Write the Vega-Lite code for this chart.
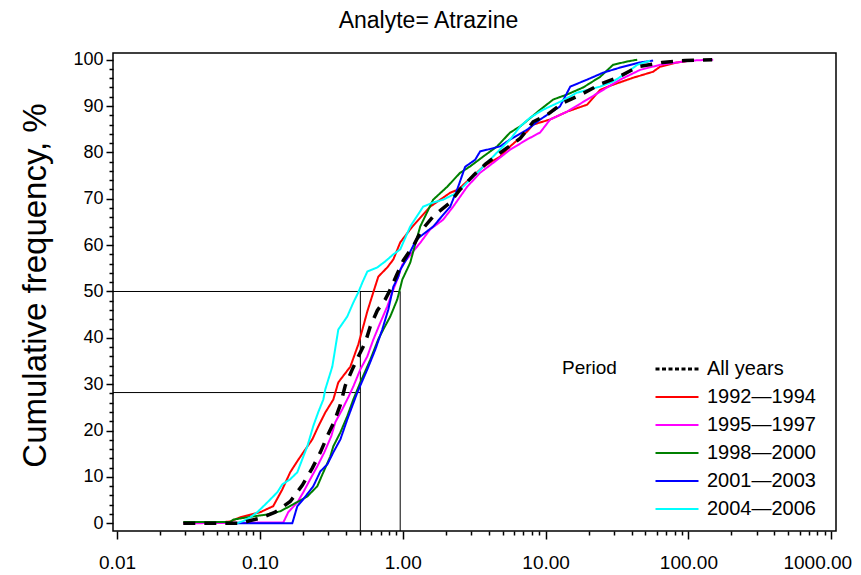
{
  "$schema": "https://vega.github.io/schema/vega-lite/v6.json",
  "width": 723,
  "height": 478,
  "autosize": {"type": "none"},
  "padding": {"left": 113, "top": 53, "right": 25, "bottom": 44},
  "title": {"text": "Analyte= Atrazine", "font": "Liberation Sans", "fontSize": 23, "fontWeight": "normal", "color": "black", "anchor": "middle", "dx": -46, "offset": 18},
  "config": {"view": {"stroke": "black", "strokeWidth": 1.5}, "font": "Liberation Sans"},
  "encoding": {
    "x": {"field": "x", "type": "quantitative",
      "scale": {"type": "log", "domain": [0.00937, 1079], "nice": false},
      "axis": {
        "title": null, "domain": false, "grid": false,
        "values": [0.01,0.02,0.03,0.04,0.05,0.06,0.07,0.08,0.09,0.1,0.2,0.3,0.4,0.5,0.6,0.7,0.8,0.9,1,2,3,4,5,6,7,8,9,10,20,30,40,50,60,70,80,90,100,200,300,400,500,600,700,800,900,1000],
        "labelExpr": "indexof([0.01,0.1,1,10,100,1000], datum.value) >= 0 ? format(datum.value, '.2f') : ''",
        "tickSize": {"condition": {"test": "indexof([0.01,0.1,1,10,100,1000], datum.value) >= 0", "value": 8}, "value": 4},
        "labelOffset": {"condition": {"test": "datum.value == 1000", "value": -14}, "value": 0},
        "tickColor": "black", "tickWidth": 1.5,
        "labelFont": "Liberation Sans", "labelFontSize": 19, "labelColor": "black",
        "labelPadding": 14, "labelFlush": false, "labelOverlap": false
      }
    },
    "y": {"field": "y", "type": "quantitative",
      "scale": {"domain": [-1.66, 101.44], "nice": false, "zero": false},
      "axis": {
        "domain": false, "grid": false,
        "values": [0,2,4,6,8,10,12,14,16,18,20,22,24,26,28,30,32,34,36,38,40,42,44,46,48,50,52,54,56,58,60,62,64,66,68,70,72,74,76,78,80,82,84,86,88,90,92,94,96,98,100],
        "labelExpr": "datum.value % 10 == 0 ? datum.label : ''",
        "tickSize": {"condition": {"test": "datum.value % 10 == 0", "value": 7}, "value": 4},
        "tickColor": "black", "tickWidth": 1.5,
        "labelFont": "Liberation Sans", "labelFontSize": 18, "labelColor": "black", "labelPadding": 3, "labelOverlap": false,
        "title": "Cumulative  frequency,  %", "titleFont": "Liberation Sans", "titleFontSize": 33, "titleFontWeight": "normal", "titleColor": "black",
        "titleX": -78, "titleY": 232, "titleBaseline": "middle", "titleAlign": "center", "titleAngle": -90
      }
    }
  },
  "layer": [
    {
      "data": {"values": [
        {"x": 0.00937, "x2": 0.96, "y": 50, "y2": 50},
        {"x": 0.00937, "x2": 0.505, "y": 28.2, "y2": 28.2},
        {"x": 0.505, "x2": 0.505, "y": -1.66, "y2": 50},
        {"x": 0.96, "x2": 0.96, "y": -1.66, "y2": 50}
      ]},
      "mark": {"type": "rule", "color": "black", "strokeWidth": 1},
      "encoding": {"x2": {"field": "x2"}, "y2": {"field": "y2"}}
    },
    {
      "data": {"values": [
        {"s":"1992—1994","x":0.0291,"y":0},{"s":"1992—1994","x":0.053,"y":0.2},{"s":"1992—1994","x":0.0621,"y":0.4},{"s":"1992—1994","x":0.073,"y":1.3},{"s":"1992—1994","x":0.1007,"y":2.4},{"s":"1992—1994","x":0.124,"y":3.7},{"s":"1992—1994","x":0.1435,"y":7.3},{"s":"1992—1994","x":0.163,"y":11.0},{"s":"1992—1994","x":0.1828,"y":13.4},{"s":"1992—1994","x":0.2014,"y":15.3},{"s":"1992—1994","x":0.2328,"y":18.1},{"s":"1992—1994","x":0.2564,"y":20.9},{"s":"1992—1994","x":0.287,"y":23.9},{"s":"1992—1994","x":0.3266,"y":26.7},{"s":"1992—1994","x":0.354,"y":30.4},{"s":"1992—1994","x":0.43,"y":33.8},{"s":"1992—1994","x":0.4887,"y":38.6},{"s":"1992—1994","x":0.5297,"y":42.5},{"s":"1992—1994","x":0.565,"y":45.7},{"s":"1992—1994","x":0.622,"y":49.8},{"s":"1992—1994","x":0.6745,"y":53.2},{"s":"1992—1994","x":0.78,"y":55.2},{"s":"1992—1994","x":0.859,"y":56.9},{"s":"1992—1994","x":0.961,"y":60.6},{"s":"1992—1994","x":1.168,"y":64.0},{"s":"1992—1994","x":1.556,"y":68.3},{"s":"1992—1994","x":2.15,"y":71.3},{"s":"1992—1994","x":2.445,"y":72.0},{"s":"1992—1994","x":3.656,"y":76.9},{"s":"1992—1994","x":4.81,"y":79.1},{"s":"1992—1994","x":5.65,"y":81.3},{"s":"1992—1994","x":7.43,"y":84.5},{"s":"1992—1994","x":8.18,"y":86.0},{"s":"1992—1994","x":10.76,"y":87.1},{"s":"1992—1994","x":14.16,"y":88.8},{"s":"1992—1994","x":19.55,"y":90.3},{"s":"1992—1994","x":24.1,"y":93.5},{"s":"1992—1994","x":29.7,"y":94.6},{"s":"1992—1994","x":41.0,"y":96.1},{"s":"1992—1994","x":56.6,"y":97.4},{"s":"1992—1994","x":63.4,"y":98.5},{"s":"1992—1994","x":83.4,"y":99.4},{"s":"1992—1994","x":102.8,"y":99.8},

        {"s":"1995—1997","x":0.0291,"y":0},{"s":"1995—1997","x":0.146,"y":0.2},{"s":"1995—1997","x":0.158,"y":2.4},{"s":"1995—1997","x":0.1828,"y":4.5},{"s":"1995—1997","x":0.2014,"y":6.7},{"s":"1995—1997","x":0.225,"y":9.5},{"s":"1995—1997","x":0.2523,"y":12.3},{"s":"1995—1997","x":0.2825,"y":15.3},{"s":"1995—1997","x":0.316,"y":18.8},{"s":"1995—1997","x":0.3373,"y":21.8},{"s":"1995—1997","x":0.3776,"y":24.6},{"s":"1995—1997","x":0.416,"y":27.2},{"s":"1995—1997","x":0.4508,"y":29.5},{"s":"1995—1997","x":0.505,"y":33.2},{"s":"1995—1997","x":0.565,"y":36.0},{"s":"1995—1997","x":0.622,"y":39.6},{"s":"1995—1997","x":0.697,"y":43.3},{"s":"1995—1997","x":0.78,"y":46.8},{"s":"1995—1997","x":0.859,"y":50.4},{"s":"1995—1997","x":0.931,"y":53.2},{"s":"1995—1997","x":0.994,"y":55.8},{"s":"1995—1997","x":1.325,"y":60.5},{"s":"1995—1997","x":1.556,"y":63.4},{"s":"1995—1997","x":1.919,"y":65.5},{"s":"1995—1997","x":2.254,"y":68.3},{"s":"1995—1997","x":2.825,"y":72.6},{"s":"1995—1997","x":3.48,"y":75.6},{"s":"1995—1997","x":4.58,"y":78.4},{"s":"1995—1997","x":5.65,"y":80.6},{"s":"1995—1997","x":7.43,"y":82.8},{"s":"1995—1997","x":9.16,"y":84.3},{"s":"1995—1997","x":10.76,"y":87.1},{"s":"1995—1997","x":14.16,"y":88.8},{"s":"1995—1997","x":19.55,"y":91.4},{"s":"1995—1997","x":24.1,"y":93.1},{"s":"1995—1997","x":33.3,"y":95.7},{"s":"1995—1997","x":45.9,"y":97.8},{"s":"1995—1997","x":63.4,"y":98.9},{"s":"1995—1997","x":83.4,"y":99.4},{"s":"1995—1997","x":102.8,"y":99.8},{"s":"1995—1997","x":149,"y":100},

        {"s":"1998—2000","x":0.0291,"y":0.3},{"s":"1998—2000","x":0.0621,"y":0.3},{"s":"1998—2000","x":0.0652,"y":0.8},{"s":"1998—2000","x":0.0857,"y":1.4},{"s":"1998—2000","x":0.1127,"y":1.9},{"s":"1998—2000","x":0.139,"y":2.6},{"s":"1998—2000","x":0.1714,"y":4.1},{"s":"1998—2000","x":0.2148,"y":5.8},{"s":"1998—2000","x":0.2523,"y":8.0},{"s":"1998—2000","x":0.278,"y":11.0},{"s":"1998—2000","x":0.311,"y":14.4},{"s":"1998—2000","x":0.3266,"y":16.6},{"s":"1998—2000","x":0.366,"y":19.6},{"s":"1998—2000","x":0.409,"y":23.1},{"s":"1998—2000","x":0.4508,"y":26.7},{"s":"1998—2000","x":0.505,"y":30.4},{"s":"1998—2000","x":0.593,"y":35.3},{"s":"1998—2000","x":0.6745,"y":39.7},{"s":"1998—2000","x":0.731,"y":41.8},{"s":"1998—2000","x":0.818,"y":44.6},{"s":"1998—2000","x":0.916,"y":48.3},{"s":"1998—2000","x":0.994,"y":52.6},{"s":"1998—2000","x":1.128,"y":56.2},{"s":"1998—2000","x":1.206,"y":59.5},{"s":"1998—2000","x":1.325,"y":64.0},{"s":"1998—2000","x":1.633,"y":69.8},{"s":"1998—2000","x":2.05,"y":72.6},{"s":"1998—2000","x":2.52,"y":75.6},{"s":"1998—2000","x":2.97,"y":77.0},{"s":"1998—2000","x":3.656,"y":79.1},{"s":"1998—2000","x":4.58,"y":81.3},{"s":"1998—2000","x":5.65,"y":84.3},{"s":"1998—2000","x":6.64,"y":85.6},{"s":"1998—2000","x":9.16,"y":89.2},{"s":"1998—2000","x":11.3,"y":91.4},{"s":"1998—2000","x":14.16,"y":92.5},{"s":"1998—2000","x":18.3,"y":94.0},{"s":"1998—2000","x":24.1,"y":96.3},{"s":"1998—2000","x":29.7,"y":98.9},{"s":"1998—2000","x":37.2,"y":99.6},{"s":"1998—2000","x":43.8,"y":100},

        {"s":"2001—2003","x":0.0695,"y":0},{"s":"2001—2003","x":0.1686,"y":0},{"s":"2001—2003","x":0.1828,"y":3.7},{"s":"2001—2003","x":0.2014,"y":5.2},{"s":"2001—2003","x":0.2366,"y":8.0},{"s":"2001—2003","x":0.265,"y":11.2},{"s":"2001—2003","x":0.2965,"y":12.7},{"s":"2001—2003","x":0.3266,"y":15.3},{"s":"2001—2003","x":0.366,"y":18.1},{"s":"2001—2003","x":0.409,"y":22.4},{"s":"2001—2003","x":0.4808,"y":28.2},{"s":"2001—2003","x":0.565,"y":33.2},{"s":"2001—2003","x":0.643,"y":37.5},{"s":"2001—2003","x":0.719,"y":41.8},{"s":"2001—2003","x":0.7925,"y":46.1},{"s":"2001—2003","x":0.859,"y":51.0},{"s":"2001—2003","x":0.931,"y":53.2},{"s":"2001—2003","x":0.961,"y":54.7},{"s":"2001—2003","x":1.06,"y":56.9},{"s":"2001—2003","x":1.245,"y":61.2},{"s":"2001—2003","x":1.633,"y":64.0},{"s":"2001—2003","x":2.15,"y":68.3},{"s":"2001—2003","x":2.445,"y":72.6},{"s":"2001—2003","x":2.735,"y":76.9},{"s":"2001—2003","x":3.21,"y":78.4},{"s":"2001—2003","x":3.48,"y":80.2},{"s":"2001—2003","x":4.81,"y":81.3},{"s":"2001—2003","x":5.65,"y":82.8},{"s":"2001—2003","x":7.43,"y":84.9},{"s":"2001—2003","x":9.16,"y":87.1},{"s":"2001—2003","x":12.6,"y":89.9},{"s":"2001—2003","x":14.9,"y":94.2},{"s":"2001—2003","x":19.55,"y":95.7},{"s":"2001—2003","x":25.3,"y":97.2},{"s":"2001—2003","x":33.3,"y":98.3},{"s":"2001—2003","x":45.9,"y":99.4},{"s":"2001—2003","x":56.6,"y":99.8},

        {"s":"2004—2006","x":0.0688,"y":0},{"s":"2004—2006","x":0.0766,"y":0.5},{"s":"2004—2006","x":0.0857,"y":1.3},{"s":"2004—2006","x":0.096,"y":2.4},{"s":"2004—2006","x":0.1127,"y":4.5},{"s":"2004—2006","x":0.1325,"y":6.7},{"s":"2004—2006","x":0.1435,"y":8.4},{"s":"2004—2006","x":0.163,"y":9.5},{"s":"2004—2006","x":0.1828,"y":11.0},{"s":"2004—2006","x":0.2014,"y":14.4},{"s":"2004—2006","x":0.2148,"y":16.6},{"s":"2004—2006","x":0.2366,"y":21.0},{"s":"2004—2006","x":0.2564,"y":24.0},{"s":"2004—2006","x":0.278,"y":26.7},{"s":"2004—2006","x":0.287,"y":28.9},{"s":"2004—2006","x":0.3214,"y":33.8},{"s":"2004—2006","x":0.354,"y":41.8},{"s":"2004—2006","x":0.409,"y":44.6},{"s":"2004—2006","x":0.4508,"y":47.6},{"s":"2004—2006","x":0.4887,"y":49.8},{"s":"2004—2006","x":0.521,"y":51.9},{"s":"2004—2006","x":0.565,"y":54.3},{"s":"2004—2006","x":0.664,"y":55.2},{"s":"2004—2006","x":0.755,"y":56.5},{"s":"2004—2006","x":0.859,"y":58.0},{"s":"2004—2006","x":0.961,"y":59.1},{"s":"2004—2006","x":1.128,"y":64.0},{"s":"2004—2006","x":1.39,"y":68.3},{"s":"2004—2006","x":1.633,"y":69.2},{"s":"2004—2006","x":1.919,"y":69.8},{"s":"2004—2006","x":2.405,"y":71.3},{"s":"2004—2006","x":2.825,"y":73.5},{"s":"2004—2006","x":3.32,"y":75.6},{"s":"2004—2006","x":3.9,"y":77.8},{"s":"2004—2006","x":4.58,"y":80.0},{"s":"2004—2006","x":5.65,"y":82.8},{"s":"2004—2006","x":6.64,"y":85.6},{"s":"2004—2006","x":7.8,"y":87.5},{"s":"2004—2006","x":9.61,"y":89.2},{"s":"2004—2006","x":12.6,"y":90.9},{"s":"2004—2006","x":16.63,"y":92.9},{"s":"2004—2006","x":24.1,"y":94.2},{"s":"2004—2006","x":29.7,"y":95.3},{"s":"2004—2006","x":37.2,"y":97.2},{"s":"2004—2006","x":43.8,"y":98.9},{"s":"2004—2006","x":54.0,"y":99.8},

        {"s":"All years","x":0.0291,"y":0},{"s":"All years","x":0.073,"y":0},{"s":"All years","x":0.0857,"y":0.6},{"s":"All years","x":0.1007,"y":1.1},{"s":"All years","x":0.128,"y":2.4},{"s":"All years","x":0.163,"y":4.7},{"s":"All years","x":0.198,"y":8.2},{"s":"All years","x":0.2328,"y":11.9},{"s":"All years","x":0.265,"y":15.3},{"s":"All years","x":0.2965,"y":18.8},{"s":"All years","x":0.332,"y":22.0},{"s":"All years","x":0.366,"y":25.6},{"s":"All years","x":0.396,"y":29.7},{"s":"All years","x":0.4436,"y":33.2},{"s":"All years","x":0.4887,"y":36.0},{"s":"All years","x":0.547,"y":39.0},{"s":"All years","x":0.593,"y":42.5},{"s":"All years","x":0.664,"y":45.9},{"s":"All years","x":0.755,"y":48.3},{"s":"All years","x":0.818,"y":50.4},{"s":"All years","x":0.902,"y":53.4},{"s":"All years","x":1.01,"y":56.7},{"s":"All years","x":1.2,"y":60.1},{"s":"All years","x":1.346,"y":63.1},{"s":"All years","x":1.633,"y":66.2},{"s":"All years","x":2.15,"y":69.2},{"s":"All years","x":2.52,"y":72.0},{"s":"All years","x":3.163,"y":75.2},{"s":"All years","x":3.776,"y":77.4},{"s":"All years","x":5.05,"y":80.4},{"s":"All years","x":6.64,"y":83.0},{"s":"All years","x":8.18,"y":86.6},{"s":"All years","x":10.26,"y":88.1},{"s":"All years","x":13.27,"y":90.7},{"s":"All years","x":17.74,"y":92.5},{"s":"All years","x":24.5,"y":94.8},{"s":"All years","x":31.7,"y":96.1},{"s":"All years","x":44.5,"y":98.5},{"s":"All years","x":65.5,"y":99.4},{"s":"All years","x":94.8,"y":99.8},{"s":"All years","x":146.6,"y":100}
      ]},
      "mark": {"type": "line", "strokeCap": "butt"},
      "encoding": {
        "color": {"field": "s", "type": "nominal",
          "scale": {"domain": ["All years","1992—1994","1995—1997","1998—2000","2001—2003","2004—2006"], "range": ["black","#FF0000","#FF00FF","#008000","#0000FF","#00FFFF"]},
          "legend": {
            "orient": "none", "legendX": 449, "legendY": 306,
            "title": "Period", "titleOrient": "left", "titleAngle": 0, "titleAnchor": "start", "titleFont": "Liberation Sans", "titleFontSize": 19, "titleFontWeight": "normal", "titleColor": "black", "titlePadding": 50, "titleBaseline": "top",
            "labelFont": "Liberation Sans", "labelFontSize": 20, "labelColor": "black", "labelOffset": 20,
            "symbolType": "stroke", "symbolSize": 1849, "symbolStrokeWidth": 2, "rowPadding": 8,
            "encode": {"symbols": {"update": {"strokeDash": {"signal": "datum.value === 'All years' ? [4,2.5] : [1,0]"}, "strokeWidth": {"signal": "datum.value === 'All years' ? 3 : 2"}}}}
          }
        },
        "strokeWidth": {"condition": {"test": "datum.s === 'All years'", "value": 3.5}, "value": 2},
        "strokeDash": {"condition": {"test": "datum.s === 'All years'", "value": [12, 9]}, "value": [1, 0]}
      }
    }
  ]
}
